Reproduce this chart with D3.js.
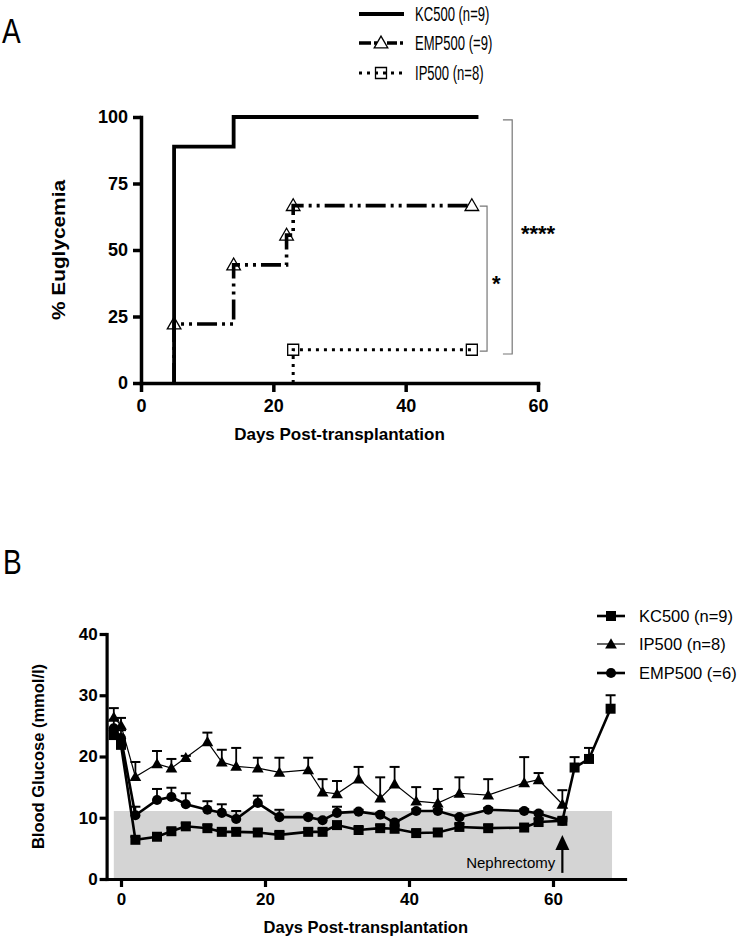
<!DOCTYPE html>
<html><head><meta charset="utf-8">
<script src="https://cdn.jsdelivr.net/npm/d3@7"></script>
<style>body{margin:0;background:#fff} svg{display:block}</style>
</head><body><svg id="c" width="742" height="939"></svg>
<script>
// ================= DATA =================
// Panel A: Kaplan-Meier style % euglycemia
const legendA = ["KC500 (n=9)", "EMP500 (=9)", "IP500 (n=8)"];
const kcDaysA = [5, 14, 51];
const kcPctA  = [88.9, 100, 100];
const empDaysA = [5, 14, 22, 23, 50];
const empPctA  = [22.2, 44.4, 55.6, 66.7, 66.7];
const ipDaysA = [23, 50];
const ipPctA  = [12.5, 12.5];
const aXTicks = [0, 20, 40, 60];
const aYTicks = [0, 25, 50, 75, 100];
const sigLabels = ["****", "*"];

// Panel B: blood glucose
const legendB = ["KC500 (n=9)", "IP500 (n=8)", "EMP500 (=6)"];
const kcDaysB = [-1,0,2,5,7,9,12,14,16,19,22,26,28,30,33,36,38,41,44,47,51,56,58,61.3,63,65,68];
const kcMean  = [23.5,21.9,6.4,6.9,7.8,8.6,8.3,7.7,7.7,7.6,7.2,7.7,7.7,8.8,8.0,8.3,8.2,7.5,7.6,8.5,8.3,8.4,9.3,9.5,18.2,19.6,27.8];
const kcSem   = [0.8,0.7,0.5,0.5,0.5,0.5,0.5,0.5,0.5,0.5,0.5,0.5,0.5,0.5,0.5,0.5,0.5,0.5,0.5,0.5,0.5,0.5,0.5,0.5,1.7,1.8,2.2];
const ipDaysB = [-1,0,2,5,7,9,12,14,16,19,22,26,28,30,33,36,38,41,44,47,51,56,58,61.3];
const ipMean  = [26.4,25.1,16.7,18.8,18.1,19.8,22.4,19.1,18.4,18.1,17.4,17.8,14.2,13.9,16.3,13.2,15.5,12.7,12.4,14.0,13.7,15.7,16.2,12.2];
const ipSem   = [1.5,1.2,2.4,2.1,1.5,0.3,1.5,2.0,3.0,1.7,2.4,2.0,2.1,2.1,2.0,3.4,2.8,2.3,2.3,2.6,2.6,4.2,1.1,2.3];
const empDaysB = [-1,0,2,5,7,9,12,14,16,19,22,26,28,30,33,36,38,41,44,47,51,56,58,61.3];
const empMean  = [24.6,23.0,10.4,12.9,13.4,12.2,11.3,10.8,9.8,12.4,10.1,10.1,9.6,10.8,11.0,10.5,9.2,11.1,11.1,10.1,11.3,11.1,10.7,9.5];
const empSem   = [1.4,1.3,1.4,1.8,1.5,1.8,1.4,1.4,1.3,1.2,1.2,0.3,0.3,1.0,0.3,0.3,0.3,0.3,0.3,0.3,0.3,0.3,0.3,0.3];
const bXTicks = [0, 20, 40, 60];
const bYTicks = [0, 10, 20, 30, 40];
const normoRange = [-1, 68.2, 0, 11.1];   // day from, day to, glucose from, glucose to
const nephrectomy = {day: 61.3, label: "Nephrectomy", tip: 7.2, base: 1.0};

// ================= DRAWING =================
const FONT = "'Liberation Sans', Arial, Helvetica, sans-serif";
const svg = d3.select("#c");

function styleAxis(g, fs, sw) {
  g.attr("font-family", null).attr("font-size", null);
  g.select(".domain").attr("stroke", "#000").attr("stroke-width", sw).attr("stroke-linecap", "square");
  g.selectAll(".tick line").attr("stroke", "#000").attr("stroke-width", sw);
  g.selectAll(".tick text").attr("font-family", FONT).attr("font-size", fs)
    .attr("font-weight", "bold").attr("fill", "#000");
}

// ---------- Panel A ----------
const xA = d3.scaleLinear().domain([0, 60]).range([141, 538]);
const yA = d3.scaleLinear().domain([0, 100]).range([383, 117]);
const gA = svg.append("g");

gA.append("text").text("A").attr("font-family", FONT).attr("font-size", 35)
  .attr("transform", "translate(2,43) scale(0.8,1)");

gA.append("g").attr("transform", `translate(0,${yA(0)})`)
  .call(d3.axisBottom(xA).tickValues(aXTicks).tickSize(9).tickPadding(7).tickSizeOuter(0))
  .call(g => styleAxis(g, 18, 3.5));
gA.append("g").attr("transform", `translate(${xA(0)},0)`)
  .call(d3.axisLeft(yA).tickValues(aYTicks).tickSize(8).tickPadding(5).tickSizeOuter(0))
  .call(g => styleAxis(g, 18, 3.5));

gA.append("text").text("Days Post-transplantation").attr("font-family", FONT)
  .attr("font-size", 17).attr("font-weight", "bold").attr("text-anchor", "middle")
  .attr("x", (xA(0) + xA(60)) / 2).attr("y", 440);
gA.append("text").text("% Euglycemia").attr("font-family", FONT)
  .attr("font-size", 18).attr("font-weight", "bold").attr("text-anchor", "middle")
  .attr("textLength", 140).attr("lengthAdjust", "spacingAndGlyphs")
  .attr("transform", `translate(65,${(yA(0) + yA(100)) / 2}) rotate(-90)`);

const stepLine = d3.line().x(d => xA(d[0])).y(d => yA(d[1])).curve(d3.curveStepAfter);
const kmPts = (days, pct) => [[days[0], 0]].concat(days.map((d, i) => [d, pct[i]]));

const empStyle = {dash: "20,5,3,5,3,5", w: 3.6};
const ipStyle = {dash: "3,5", w: 3};

gA.append("path").datum(kmPts(ipDaysA, ipPctA)).attr("d", stepLine)
  .attr("fill", "none").attr("stroke", "#000").attr("stroke-width", ipStyle.w)
  .attr("stroke-dasharray", ipStyle.dash);
gA.append("path").datum(kmPts(empDaysA, empPctA)).attr("d", stepLine)
  .attr("fill", "none").attr("stroke", "#000").attr("stroke-width", empStyle.w)
  .attr("stroke-dasharray", empStyle.dash);
gA.append("path").datum(kmPts(kcDaysA, kcPctA)).attr("d", stepLine)
  .attr("fill", "none").attr("stroke", "#000").attr("stroke-width", 3.8);

const triA = d3.symbol().type(d3.symbolTriangle).size(80);
const sqA = d3.symbol().type(d3.symbolSquare).size(121);
gA.selectAll(".tA").data(empDaysA.map((d, i) => [d, empPctA[i]])).join("path")
  .attr("d", triA).attr("transform", d => `translate(${xA(d[0])},${yA(d[1]) + 1})`)
  .attr("fill", "none").attr("stroke", "#000").attr("stroke-width", 1.3);
gA.selectAll(".sA").data(ipDaysA.map((d, i) => [d, ipPctA[i]])).join("path")
  .attr("d", sqA).attr("transform", d => `translate(${xA(d[0])},${yA(d[1])})`)
  .attr("fill", "none").attr("stroke", "#000").attr("stroke-width", 1.3);

// significance brackets
function bracket(xv, tickX, y1, y2, label, lx, ly, fs) {
  const p = d3.path();
  p.moveTo(xA(tickX), yA(y1)); p.lineTo(xA(xv), yA(y1));
  p.lineTo(xA(xv), yA(y2)); p.lineTo(xA(tickX), yA(y2));
  gA.append("path").attr("d", p.toString()).attr("fill", "none")
    .attr("stroke", "#777").attr("stroke-width", 1.2);
  gA.append("text").text(label).attr("font-family", FONT).attr("font-size", fs)
    .attr("font-weight", "bold").attr("text-anchor", "middle")
    .attr("x", xA(lx)).attr("y", yA(ly));
}
bracket(56.1, 54.7, 98.9, 10.9, sigLabels[0], 60, 53.5, 22);
bracket(52.3, 51.2, 66.5, 12.0, sigLabels[1], 53.7, 34.5, 22);

// legend A
const legA = gA.append("g");
const legRowsA = [14, 43, 73];
legendA.forEach((name, i) => {
  const y = legRowsA[i];
  const line = legA.append("line").attr("x1", 359).attr("x2", 404).attr("y1", y).attr("y2", y)
    .attr("stroke", "#000");
  if (i === 0) line.attr("stroke-width", 3.8);
  if (i === 1) {
    line.attr("stroke-width", empStyle.w).attr("stroke-dasharray", "12,3,3,10,10,3,3,10");
    legA.append("path").attr("d", triA).attr("transform", `translate(381,${y + 1})`)
      .attr("fill", "none").attr("stroke", "#000").attr("stroke-width", 1.3);
  }
  if (i === 2) {
    line.attr("stroke-width", ipStyle.w).attr("stroke-dasharray", ipStyle.dash);
    legA.append("path").attr("d", sqA).attr("transform", `translate(381,${y})`)
      .attr("fill", "none").attr("stroke", "#000").attr("stroke-width", 1.3);
  }
  legA.append("text").text(name).attr("font-family", FONT).attr("font-size", 19.5)
    .attr("transform", `translate(415,${y + 7}) scale(0.67,1)`);
});

// ---------- Panel B ----------
const xB = d3.scaleLinear().domain([-2, 70]).range([106.6, 625]);
const yB = d3.scaleLinear().domain([0, 40]).range([879, 634]);
const gB = svg.append("g");

gB.append("text").text("B").attr("font-family", FONT).attr("font-size", 35)
  .attr("transform", "translate(3,574) scale(0.8,1)");

gB.append("rect").attr("x", xB(normoRange[0])).attr("width", xB(normoRange[1]) - xB(normoRange[0]))
  .attr("y", yB(normoRange[3])).attr("height", yB(normoRange[2]) - yB(normoRange[3]))
  .attr("fill", "#d4d4d4");

gB.append("g").attr("transform", `translate(0,${yB(0)})`)
  .call(d3.axisBottom(xB).tickValues(bXTicks).tickSize(8).tickPadding(6).tickSizeOuter(0))
  .call(g => styleAxis(g, 17, 3.2));
gB.append("g").attr("transform", `translate(${xB(-2)},0)`)
  .call(d3.axisLeft(yB).tickValues(bYTicks).tickSize(7).tickPadding(2).tickSizeOuter(0))
  .call(g => styleAxis(g, 17, 3.2));

gB.append("text").text("Days Post-transplantation").attr("font-family", FONT)
  .attr("font-size", 16.5).attr("font-weight", "bold").attr("text-anchor", "middle")
  .attr("x", (xB(-2) + xB(70)) / 2).attr("y", 933);
gB.append("text").text("Blood Glucose (mmol/l)").attr("font-family", FONT)
  .attr("font-size", 16.5).attr("font-weight", "bold").attr("text-anchor", "middle")
  .attr("transform", `translate(44,${(yB(0) + yB(40)) / 2}) rotate(-90)`);

const series = [
  {days: ipDaysB, mean: ipMean, sem: ipSem, w: 1.2, sym: d3.symbolTriangle, size: 60, dy: 1},
  {days: empDaysB, mean: empMean, sem: empSem, w: 2.6, sym: d3.symbolCircle, size: 80, dy: 0},
  {days: kcDaysB, mean: kcMean, sem: kcSem, w: 2.6, sym: d3.symbolSquare, size: 100, dy: 0}
];
const lineB = d3.line().x(d => xB(d[0])).y(d => yB(d[1]));

series.forEach(s => {
  const pts = s.days.map((d, i) => [d, s.mean[i], s.sem[i]]);
  const eb = gB.append("g");
  eb.selectAll("line.v").data(pts).join("line")
    .attr("x1", d => xB(d[0])).attr("x2", d => xB(d[0]))
    .attr("y1", d => yB(d[1])).attr("y2", d => yB(d[1] + d[2]))
    .attr("stroke", "#000").attr("stroke-width", 1.8);
  eb.selectAll("line.c").data(pts).join("line")
    .attr("x1", d => xB(d[0]) - 5).attr("x2", d => xB(d[0]) + 5)
    .attr("y1", d => yB(d[1] + d[2])).attr("y2", d => yB(d[1] + d[2]))
    .attr("stroke", "#000").attr("stroke-width", 2);
});
series.forEach(s => {
  const pts = s.days.map((d, i) => [d, s.mean[i]]);
  gB.append("path").datum(pts).attr("d", lineB).attr("fill", "none")
    .attr("stroke", "#000").attr("stroke-width", s.w);
});
series.forEach(s => {
  const pts = s.days.map((d, i) => [d, s.mean[i]]);
  const sym = d3.symbol().type(s.sym).size(s.size);
  gB.append("g").selectAll("path").data(pts).join("path").attr("d", sym)
    .attr("transform", d => `translate(${xB(d[0])},${yB(d[1]) + s.dy})`).attr("fill", "#000");
});

// nephrectomy arrow
const ax = xB(nephrectomy.day);
gB.append("line").attr("x1", ax).attr("x2", ax)
  .attr("y1", yB(nephrectomy.base)).attr("y2", yB(nephrectomy.tip) + 8)
  .attr("stroke", "#000").attr("stroke-width", 2.2);
gB.append("path").attr("d",
  `M${ax},${yB(nephrectomy.tip)} L${ax - 7},${yB(nephrectomy.tip) + 15} L${ax + 7},${yB(nephrectomy.tip) + 15} Z`)
  .attr("fill", "#000");
gB.append("text").text(nephrectomy.label).attr("font-family", FONT).attr("font-size", 15)
  .attr("text-anchor", "end").attr("x", ax - 7).attr("y", 868);

// legend B
const legRowsB = [616, 644, 673];
const legOrder = [2, 0, 1];  // KC, IP, EMP
legendB.forEach((name, i) => {
  const s = series[legOrder[i]];
  const y = legRowsB[i];
  gB.append("line").attr("x1", 597).attr("x2", 625).attr("y1", y).attr("y2", y)
    .attr("stroke", "#000").attr("stroke-width", s.w);
  gB.append("path").attr("d", d3.symbol().type(s.sym).size(s.size))
    .attr("transform", `translate(611,${y + s.dy})`).attr("fill", "#000");
  gB.append("text").text(name).attr("font-family", FONT).attr("font-size", 16.5)
    .attr("x", 639).attr("y", y + 6);
});
</script>
</body></html>
